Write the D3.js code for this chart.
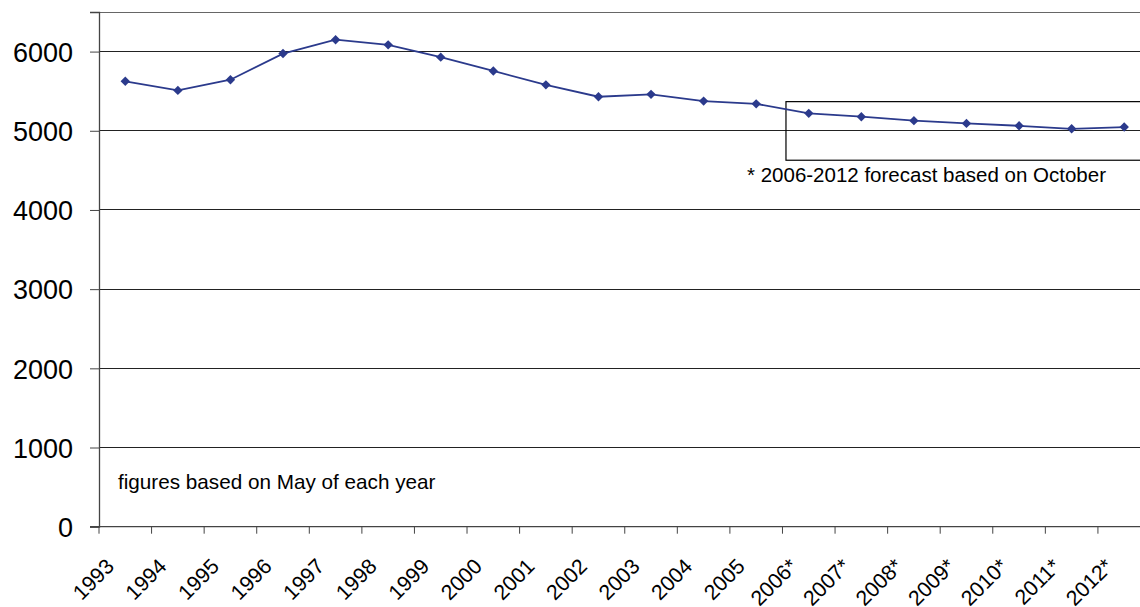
<!DOCTYPE html>
<html>
<head>
<meta charset="utf-8">
<script src="https://cdn.jsdelivr.net/npm/d3@7"></script>
<style>
  html, body { margin: 0; padding: 0; background: #fff; }
  svg { display: block; font-family: "Liberation Sans", Arial, sans-serif; }
</style>
</head>
<body>
<svg id="chart" width="1140" height="607"></svg>
<script>
const years = ["1993","1994","1995","1996","1997","1998","1999","2000","2001","2002",
               "2003","2004","2005","2006*","2007*","2008*","2009*","2010*","2011*","2012*"];
const values = [5625, 5510, 5645, 5975, 6150, 6085, 5930, 5755, 5580, 5430,
                5460, 5375, 5340, 5220, 5178, 5128, 5093, 5063, 5025, 5047];
const yTicks = [0, 1000, 2000, 3000, 4000, 5000, 6000];
const yMax = 6500;
const noteMay = "figures based on May of each year";
const noteForecast = "* 2006-2012 forecast based on October";
const forecastStart = "2006*";

(function () {
const svg = d3.select("#chart");
const pLeft = 99, pTop = 12, pRight = 1150.5, pBottom = 526.7;

const x = d3.scaleBand().domain(years).range([pLeft, pRight]).padding(0);
const y = d3.scaleLinear().domain([0, yMax]).range([pBottom, pTop]);

const lineColor = "#2b3a8c";

// gridlines
svg.append("g").selectAll("line").data(yTicks.filter(d => d > 0)).join("line")
  .attr("x1", pLeft).attr("x2", pRight)
  .attr("y1", d => y(d)).attr("y2", d => y(d))
  .attr("stroke", "#222").attr("stroke-width", 1)
  .attr("shape-rendering", "crispEdges");

// top border
svg.append("line").attr("x1", pLeft).attr("x2", pRight)
  .attr("y1", y(yMax)).attr("y2", y(yMax))
  .attr("stroke", "#666").attr("stroke-width", 1).attr("shape-rendering", "crispEdges");

// Y axis
const yAxis = d3.axisLeft(y).tickValues(yTicks).tickSize(9).tickPadding(17)
  .tickFormat(d3.format("d"));
const gy = svg.append("g").attr("transform", `translate(${pLeft},0)`).call(yAxis);
gy.select(".domain").attr("stroke", "#444").attr("stroke-width", 1.3);
gy.selectAll(".tick line").attr("stroke", "#444");
gy.selectAll(".tick text")
  .attr("font-size", 27).attr("fill", "#000")
  .attr("font-family", "'Liberation Sans', Arial, sans-serif")
  .attr("dy", "0.36em");

// X axis with ticks at category boundaries
const gx = svg.append("g").attr("transform", `translate(0,${pBottom})`);
gx.append("line").attr("x1", pLeft - 9).attr("x2", pRight).attr("y1", 0).attr("y2", 0)
  .attr("stroke", "#444").attr("stroke-width", 1.3);
const boundaries = years.map(d => x(d)).concat([x(years[years.length - 1]) + x.bandwidth()]);
gx.selectAll("line.tk").data(boundaries).join("line").attr("class", "tk")
  .attr("x1", d => d).attr("x2", d => d).attr("y1", 0).attr("y2", 7)
  .attr("stroke", "#444").attr("stroke-width", 1);
gx.selectAll("text").data(years).join("text")
  .attr("transform", d => `translate(${x(d) + x.bandwidth() / 2 - 10},${41}) rotate(-45)`)
  .attr("text-anchor", "end")
  .attr("font-size", 21.3).attr("fill", "#000")
  .text(d => d);

// forecast box
const bx = x(forecastStart) + 3.5;
svg.append("rect")
  .attr("x", bx).attr("y", y(5368))
  .attr("width", pRight - bx).attr("height", y(4628) - y(5368))
  .attr("fill", "none").attr("stroke", "#000").attr("stroke-width", 1.2);

// line
const line = d3.line().x((d, i) => x(years[i]) + x.bandwidth() / 2).y(d => y(d));
svg.append("path").datum(values).attr("d", line)
  .attr("fill", "none").attr("stroke", lineColor).attr("stroke-width", 1.8);

// markers
svg.append("g").selectAll("path").data(values).join("path")
  .attr("transform", (d, i) => `translate(${x(years[i]) + x.bandwidth() / 2},${y(d)})`)
  .attr("d", "M0,-4.7L4.7,0L0,4.7L-4.7,0Z")
  .attr("fill", lineColor);

// annotations
svg.append("text").attr("x", 1106).attr("y", 182)
  .attr("text-anchor", "end").attr("font-size", 20.5).attr("fill", "#000")
  .text(noteForecast);
svg.append("text").attr("x", 118).attr("y", 489)
  .attr("font-size", 20.7).attr("fill", "#000")
  .text(noteMay);
})();
</script>
</body>
</html>
